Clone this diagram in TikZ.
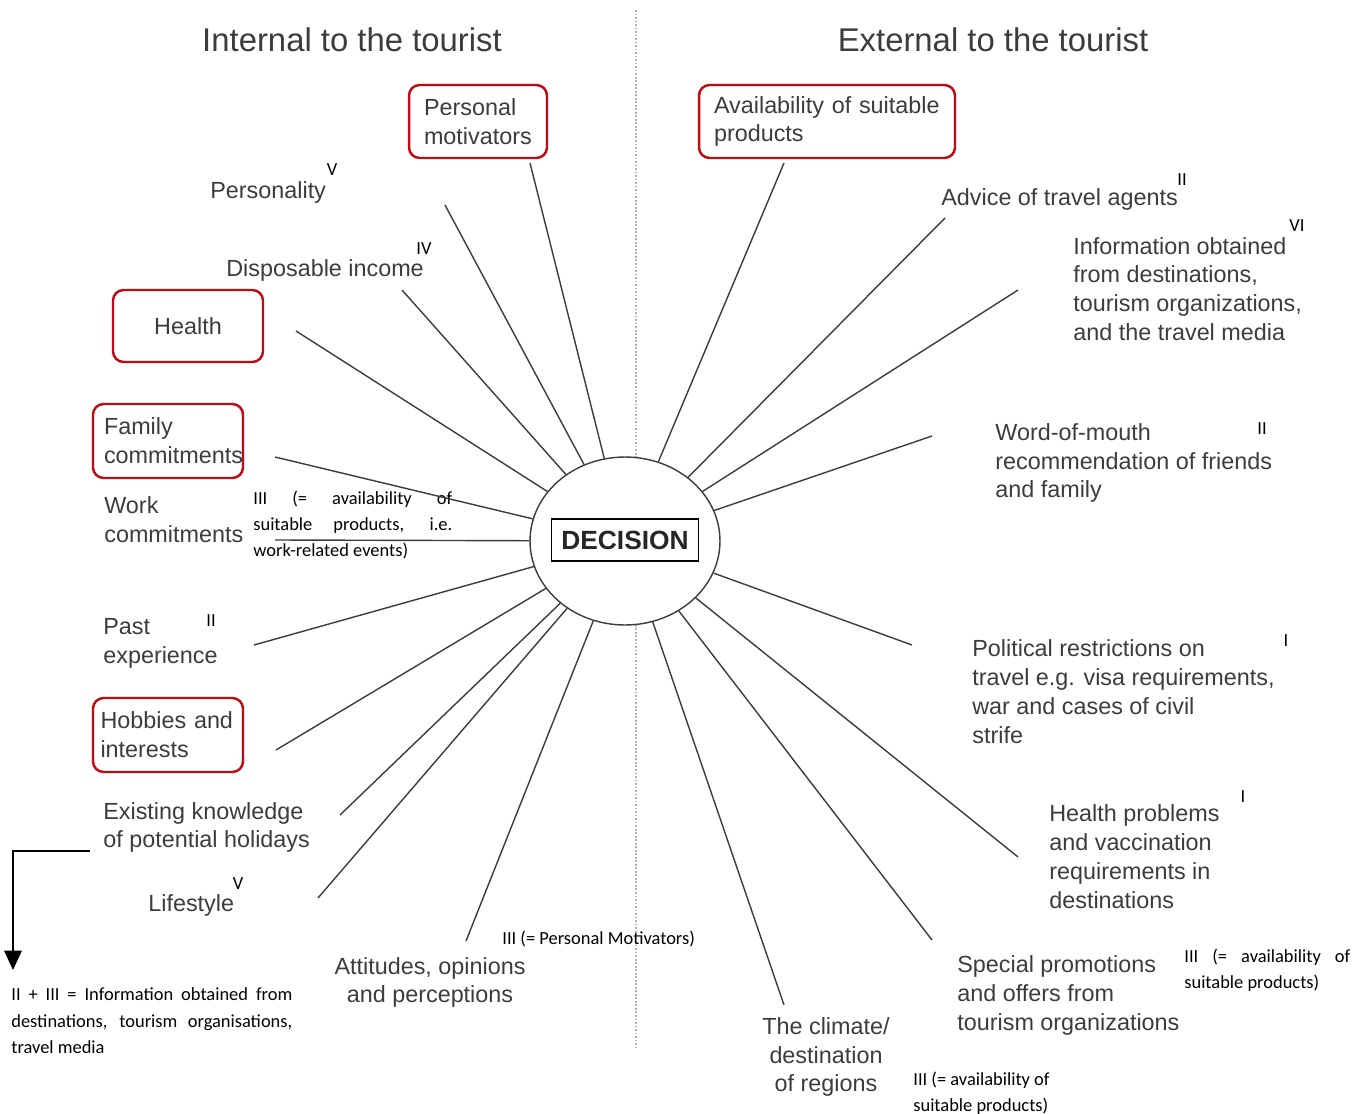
\documentclass[tikz,border=0pt]{standalone}
\usepackage{fontspec}
\setmainfont{Liberation Sans}
\newfontfamily\annfont{Carlito}
\usepackage{tikz}
\usetikzlibrary{positioning,arrows.meta,shapes.geometric}
\definecolor{boxred}{RGB}{192,10,20}
\definecolor{labgray}{RGB}{60,60,60}

\begin{document}
\begin{tikzpicture}[x=0.02cm, y=-0.02cm, >=latex,
    label/.style={anchor=west, align=left, inner sep=0pt, text=labgray, font=\fontsize{13.3}{16.4}\selectfont},
    title/.style={inner sep=0pt, text=labgray, font=\fontsize{18.7}{22}\selectfont},
    redbox/.style={draw=boxred, line width=1.4pt, rounded corners=6pt, align=left, text=labgray, font=\fontsize{13.3}{16.4}\selectfont},
    note/.style={anchor=west, inner sep=0pt, font=\annfont\fontsize{10.5}{15}\selectfont},
    num/.style={inner sep=0pt, font=\annfont\fontsize{10.5}{12}\selectfont},
    spoke/.style={draw=labgray, line width=0.8pt},
    legarrow/.style={-{Triangle[length=11pt,width=10pt]}, line width=0.8pt}]
    \useasboundingbox (0,0) rectangle (1364,1114);

    % Dividing line
    \draw[gray!60, line width=0.8pt, dash pattern=on 1pt off 1pt] (636,10) -- (636,1048);

    % Titles
    \node[title] (tint) at (352,40) {Internal to the tourist};
    \node[title] (text) at (993,40) {External to the tourist};

    % Decision
    \node[ellipse, draw=labgray, fill=white, line width=0.8pt, minimum width=3.8cm, minimum height=3.36cm] (dec) at (625,541) {};
    \node[draw=black, line width=0.8pt, minimum width=2.94cm, minimum height=0.84cm, inner sep=0pt, font=\bfseries\fontsize{15}{18}\selectfont, text=black!85] (dbox) at (625,540) {DECISION};

    % Internal factors
    \node[redbox, minimum width=2.76cm, minimum height=1.46cm, inner xsep=0.3cm, text width=2.16cm] (pm) at (478,121.5) {Personal\\motivators};
    \node[label] (pers) at (210,192) {Personality};
    \node[num] (npers) at (332,170) {V};
    \node[label] (disp) at (226,270) {Disposable income};
    \node[num] (ndisp) at (424,249) {IV};
    \node[redbox, minimum width=3cm, minimum height=1.44cm, align=center] (health) at (188,326) {Health};
    \node[redbox, minimum width=3cm, minimum height=1.48cm, inner xsep=0.22cm, text width=2.56cm] (fam) at (168,441) {Family\\commitments};
    \node[label] (work) at (104,520) {Work\\commitments};
    \node[note, text width=3.98cm, align=justify] (wnote) at (253,525) {III (= availability of\linebreak suitable products, i.e.\linebreak work-related events)};
    \node[label] (past) at (103,643.5) {Past\\experience};
    \node[num] (npast) at (211,621) {II};
    \node[redbox, minimum width=3cm, minimum height=1.48cm, inner xsep=0.15cm, text width=2.7cm] (hob) at (168,735) {Hobbies and\\interests};
    \node[label] (exist) at (103,827.5) {Existing knowledge\\of potential holidays};
    \node[label] (life) at (148,905) {Lifestyle};
    \node[num] (nlife) at (238,884) {V};
    \node[label, anchor=center, align=center] (att) at (430,982.5) {Attitudes, opinions\\and perceptions};
    \node[note] (attnote) at (502,939) {III (= Personal Motivators)};
    \node[note, text width=5.62cm, align=justify] (legend) at (11,1021) {II + III = Information obtained from\linebreak destinations, tourism organisations,\linebreak travel media};

    % External factors
    \node[redbox, minimum width=5.12cm, minimum height=1.46cm, inner xsep=0.3cm, text width=4.52cm] (avail) at (827,121.5) {Availability of suitable\\products};
    \node[label] (adv) at (941,199) {Advice of travel agents};
    \node[num] (nadv) at (1182,180) {II};
    \node[label] (info) at (1073,289) {Information obtained\\from destinations,\\tourism organizations,\\and the travel media};
    \node[num] (ninfo) at (1297,226) {VI};
    \node[label] (wom) at (995,463) {Word-of-mouth\\recommendation of friends\\and family};
    \node[num] (nwom) at (1262,429) {II};
    \node[label] (pol) at (972,691.5) {Political restrictions on\\travel e.g. visa requirements,\\war and cases of civil\\strife};
    \node[num] (npol) at (1286,641) {I};
    \node[label] (hp) at (1049,856.5) {Health problems\\and vaccination\\requirements in\\destinations};
    \node[num] (nhp) at (1243,797) {I};
    \node[label] (spec) at (957,995.5) {Special promotions\\and offers from\\tourism organizations};
    \node[note, text width=3.32cm, align=justify] (specnote) at (1184,970) {III (= availability of\linebreak suitable products)};
    \node[label, anchor=center, align=center] (clim) at (826,1057) {The climate/\\destination\\of regions};
    \node[note, align=left] (climnote) at (913,1093) {III (= availability of\\suitable products)};

    % Spokes
    \foreach \x/\y [count=\i] in {530/163, 445/205, 402/290, 296/331, 275/457, 275/540, 254/645, 276/750, 340/815, 318/898, 466/941,
        784/163, 945/218, 1018/290, 932/436, 912/645, 1018/857, 932/940, 784/1005}
        \coordinate (s\i) at (\x,\y);
    \foreach \i in {1,...,19}
        \draw[spoke] (s\i) -- (dec);

    % Legend arrow
    \coordinate (ar0) at (90,851);
    \coordinate (ar1) at (13,970);
    \draw[legarrow] (ar0) -| (ar1);

\end{tikzpicture}
\end{document}
